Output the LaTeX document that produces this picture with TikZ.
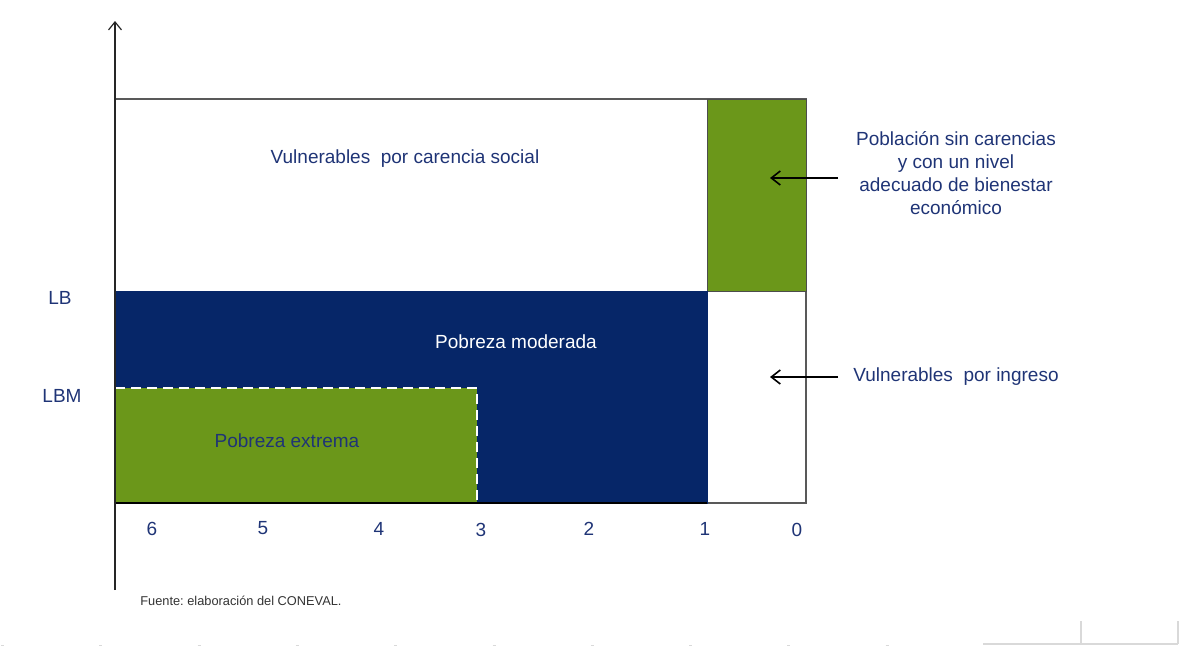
\documentclass[tikz,border=0pt]{standalone}
\usepackage{fontspec}
\setmainfont{Liberation Sans}
\usetikzlibrary{arrows.meta}
\definecolor{navy}{RGB}{6,38,104}
\definecolor{leaf}{RGB}{107,151,26}
\definecolor{ink}{RGB}{31,52,118}
\tikzset{
	lbl/.style={text=ink, font=\fontsize{9.5}{11.5}\selectfont, inner sep=1pt},
	note/.style={lbl, align=center},
	pointer/.style={-{Straight Barb[length=4.5pt,width=7pt]}, thick, black}
}
\frenchspacing
\begin{document}
\begin{tikzpicture}[x=0.5pt, y=-0.5pt]
		\useasboundingbox (0,0) rectangle (1180,648);

		% Areas
		\draw[gray!70!black, line width=0.7pt] (115,99) rectangle (806,503);
		\filldraw[fill=leaf, draw=black!70, line width=0.5pt] (707,99) rectangle (806,291);
		\filldraw[fill=navy, draw=navy] (115,291) rectangle (707,503);
		\fill[leaf] (115,388) rectangle (477,503);
		\draw[white, dashed, line width=1pt, dash pattern=on 5pt off 3pt] (115,388) -- (477,388) -- (477,503);
		\draw[black, line width=0.8pt] (115,503) -- (707,503);

		% Axis
		\coordinate (base) at (115,590);
		\coordinate (top) at (115,21);
		\draw[-{Straight Barb[length=4pt,width=6.5pt]}, black!85, line width=0.6pt] (base) -- (top);

		% Labels in the areas
		\node[lbl] (social) at (405,159) {Vulnerables \ por carencia social};
		\node[lbl, text=white] (moderada) at (516,342) {Pobreza moderada};
		\node[lbl] (extrema) at (287,441) {Pobreza extrema};

		% Thresholds
		\node[lbl] (LB) at (60,298) {LB};
		\node[lbl] (LBM) at (62,396) {LBM};

		% Number of deprivations
		\node[lbl] (n6) at (152,529) {6};
		\node[lbl] (n5) at (263,528) {5};
		\node[lbl] (n4) at (379,529) {4};
		\node[lbl] (n3) at (481,530) {3};
		\node[lbl] (n2) at (589,529) {2};
		\node[lbl] (n1) at (705,529) {1};
		\node[lbl] (n0) at (797,530) {0};

		% Callouts
		\node[note] (sinCar) at (956,173) {Población sin carencias\\y con un nivel\\adecuado de bienestar\\económico};
		\node[note] (ingreso) at (956,377) {Vulnerables \ por ingreso};
		\coordinate (s1) at (838,178);
		\coordinate (e1) at (770,178);
		\coordinate (s2) at (838,377);
		\coordinate (e2) at (770,377);
		\draw[pointer] (s1) -- (e1);
		\draw[pointer] (s2) -- (e2);

		% Source
		\node[anchor=west, inner sep=0pt, text=black!80, font=\fontsize{6.4}{7}\selectfont] (fuente) at (140,601) {Fuente: elaboración del CONEVAL.};

		% Page marks
		\foreach \i in {0,...,9}
			\draw[black!15, line width=0.5pt] (1+98.3*\i,645) -- (4+98.3*\i,645);
		\draw[black!15, line width=1pt] (983,644) -- (1178,644) (1081,621) -- (1081,644) (1178,621) -- (1178,644);

	\end{tikzpicture}
\end{document}
